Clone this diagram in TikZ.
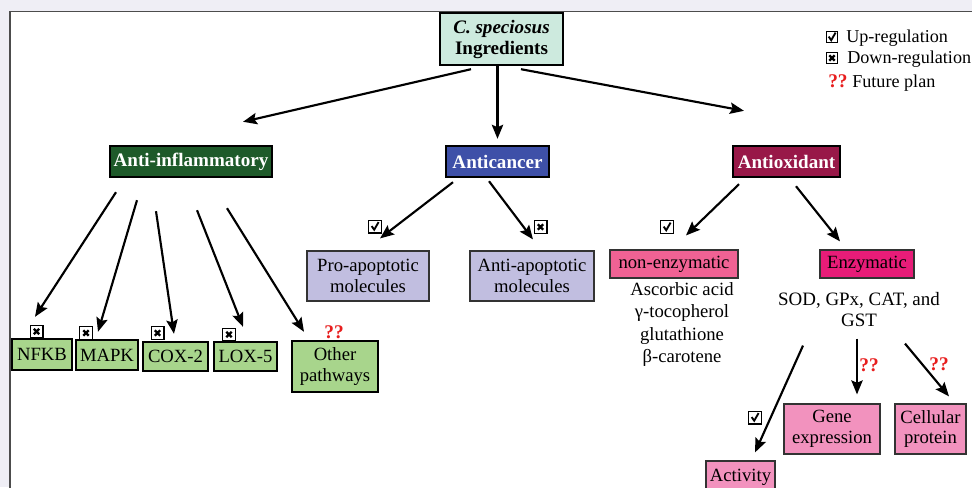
\documentclass[tikz,border=0pt]{standalone}
\usepackage{fontspec}
\setmainfont{Liberation Serif}
\usetikzlibrary{arrows.meta}
\definecolor{csback}{RGB}{239,238,245}
\definecolor{csroot}{RGB}{205,234,222}
\definecolor{csinfl}{RGB}{30,90,42}
\definecolor{cscanc}{RGB}{62,80,168}
\definecolor{csoxid}{RGB}{152,24,72}
\definecolor{csleaf}{RGB}{168,213,140}
\definecolor{cslilac}{RGB}{193,190,224}
\definecolor{csrose}{RGB}{240,98,148}
\definecolor{csmagenta}{RGB}{232,28,120}
\definecolor{cspink}{RGB}{242,146,190}
\definecolor{csred}{RGB}{232,30,30}
\tikzset{
  csbase/.style={x=0.75pt,y=-0.75pt,font=\fontsize{14}{15.5}\selectfont},
  csarrow/.style={draw=black,line width=1.6pt,-{Stealth[length=10.5pt,width=8.5pt,inset=1.8pt]}},
  csbox/.style={draw=black,line width=1.8pt,inner sep=0pt,align=center},
  cshead/.style={csbox,font=\fontsize{14.3}{15.5}\selectfont\bfseries,text=white,minimum height=23.25pt},
  csleafbox/.style={csbox,fill=csleaf},
  csthin/.style={draw=black!80,line width=0.9pt,inner sep=0pt,align=center},
  csnote/.style={align=center,inner sep=0pt},
  csmark/.style={draw=black,line width=1pt,fill=white,minimum size=9.5pt,inner sep=0pt},
  csup/.style={csmark,path picture={
    \draw[line width=1.4pt] ([shift={(-2.5pt,0.3pt)}]path picture bounding box.center)
      -- ([shift={(-0.6pt,-2.4pt)}]path picture bounding box.center)
      -- ([shift={(2.7pt,3.3pt)}]path picture bounding box.center);}},
  csdown/.style={csmark,path picture={
    \draw[line width=1.8pt] ([shift={(-2pt,-2pt)}]path picture bounding box.center)
      -- ([shift={(2pt,2pt)}]path picture bounding box.center)
      ([shift={(-2pt,2pt)}]path picture bounding box.center)
      -- ([shift={(2pt,-2pt)}]path picture bounding box.center);}},
  cskey/.style={minimum size=8pt},
  csplan/.style={text=csred,font=\fontsize{14.5}{15}\selectfont\bfseries,inner sep=0pt},
  cslegend/.style={anchor=base west,inner sep=0pt,font=\fontsize{13.6}{16}\selectfont}
}

\begin{document}
\begin{tikzpicture}[csbase]
\useasboundingbox (0,0) rectangle (972,487);
\clip (0,0) rectangle (972,487);
\fill[csback] (0,0) rectangle (972,487);
\filldraw[fill=white,draw=black!70,line width=0.8pt] (10,11.5) rectangle (990,500);

\node[csbox,fill=csroot,minimum width=92.25pt,minimum height=39pt,font=\fontsize{14.3}{15.75}\selectfont\bfseries] (root) at (501.5,39) {\textit{C. speciosus}\\Ingredients};

\node[cshead,fill=csinfl,minimum width=121.5pt] (infl) at (191,161.5) {Anti-inflammatory};
\node[cshead,fill=cscanc,minimum width=77.25pt] (canc) at (497.5,161.5) {Anticancer};
\node[cshead,fill=csoxid,minimum width=80.25pt] (oxid) at (786.5,161.5) {Antioxidant};

\node[csleafbox,minimum width=45pt,minimum height=23.25pt] (nfkb) at (42,354.5) {NFKB};
\node[csleafbox,minimum width=46.5pt,minimum height=22.5pt] (mapk) at (107,355) {MAPK};
\node[csleafbox,minimum width=48.75pt,minimum height=21.75pt] (cox) at (175.5,356.5) {COX-2};
\node[csleafbox,minimum width=47.25pt,minimum height=21.75pt] (lox) at (245.5,356.5) {LOX-5};
\node[csleafbox,minimum width=64.5pt,minimum height=38.25pt] (other) at (335,366.5) {Other\\pathways};

\node[csthin,fill=cslilac,minimum width=91.5pt,minimum height=37.5pt] (pro) at (368,276) {Pro-apoptotic\\molecules};
\node[csthin,fill=cslilac,minimum width=93pt,minimum height=37.5pt] (anti) at (532,276) {Anti-apoptotic\\molecules};
\node[csthin,fill=csrose,minimum width=96pt,minimum height=21pt] (nonenz) at (674,264) {non-enzymatic};
\node[csthin,fill=csmagenta,minimum width=70.5pt,minimum height=21pt] (enz) at (867,264) {Enzymatic};
\node[csnote,font=\fontsize{14}{16.75}\selectfont] (nonlist) at (682,324.5) {Ascorbic acid\\γ-tocopherol\\glutathione\\β-carotene};
\node[csnote,font=\fontsize{14.2}{15.75}\selectfont] (enzlist) at (859,309.5) {SOD, GPx, CAT, and\\GST};

\node[csthin,fill=cspink,minimum width=72pt,minimum height=37.5pt] (gene) at (832,429) {Gene\\expression};
\node[csthin,fill=cspink,minimum width=53.25pt,minimum height=37.5pt] (cell) at (930.5,429) {Cellular\\protein};
\node[csthin,fill=cspink,minimum width=51.75pt,minimum height=24pt] (act) at (740.5,477) {Activity};

\draw[csarrow] ([shift={(-30.5,3)}]root.south) -- ([shift={(52,-23)}]infl.north);
\draw[csarrow,shorten >=4.5pt] (root.south -| canc.north) -- (canc.north);
\draw[csarrow] ([shift={(19.5,3)}]root.south) -- ([shift={(-42.5,-34)}]oxid.north);

\draw[csarrow] ([shift={(-75,14)}]infl.south) -- ([shift={(-7,-21)}]nfkb.north);
\draw[csarrow] ([shift={(-54,22)}]infl.south) -- ([shift={(-9,-7)}]mapk.north);
\draw[csarrow] ([shift={(-35,33)}]infl.south) -- ([shift={(-1.5,-7)}]cox.north);
\draw[csarrow] ([shift={(6,32)}]infl.south) -- ([shift={(-2.5,-14)}]lox.north);
\draw[csarrow] ([shift={(36,30)}]infl.south) -- ([shift={(-31,-8)}]other.north);

\draw[csarrow] ([shift={(-44.5,4)}]canc.south) -- ([shift={(12,-12)}]pro.north);
\draw[csarrow] ([shift={(-8.5,3)}]canc.south) -- ([shift={(1,-11)}]anti.north);

\draw[csarrow] ([shift={(-47.5,6)}]oxid.south) -- ([shift={(12,-14)}]nonenz.north);
\draw[csarrow] ([shift={(9.5,8)}]oxid.south) -- ([shift={(-27,-8)}]enz.north);

\draw[csarrow] ([shift={(-64,67)}]enz.south) -- ([shift={(14.5,-8)}]act.north);
\draw[csarrow] ([shift={(-10,60)}]enz.south) -- ([shift={(25,-9)}]gene.north);
\draw[csarrow] ([shift={(38,65)}]enz.south) -- ([shift={(18.5,-7)}]cell.north);

\node[csdown] (m-nfkb) at (36.5,331.5) {};
\node[csdown] (m-mapk) at (86,333) {};
\node[csdown] (m-cox) at (157.5,333) {};
\node[csdown] (m-lox) at (229,334.5) {};
\node[csplan] (q-other) at (334,332) {??};
\node[csup] (m-pro) at (375,226.5) {};
\node[csdown] (m-anti) at (540.5,227) {};
\node[csup] (m-nonenz) at (667,227) {};
\node[csup] (m-act) at (755,417.5) {};
\node[csplan] (q-gene) at (869,365) {??};
\node[csplan] (q-cell) at (939,364) {??};

\node[csup,cskey] (l-up) at (832,37) {};
\node[csdown,cskey] (l-down) at (832,58) {};
\node[csplan,anchor=base west] (l-plan) at (828,87) {??};
\node[cslegend] (t-up) at (846,42) {Up-regulation};
\node[cslegend] (t-down) at (847,63) {Down-regulation};
\node[cslegend] (t-plan) at (852,87) {Future plan};
\end{tikzpicture}
\end{document}
